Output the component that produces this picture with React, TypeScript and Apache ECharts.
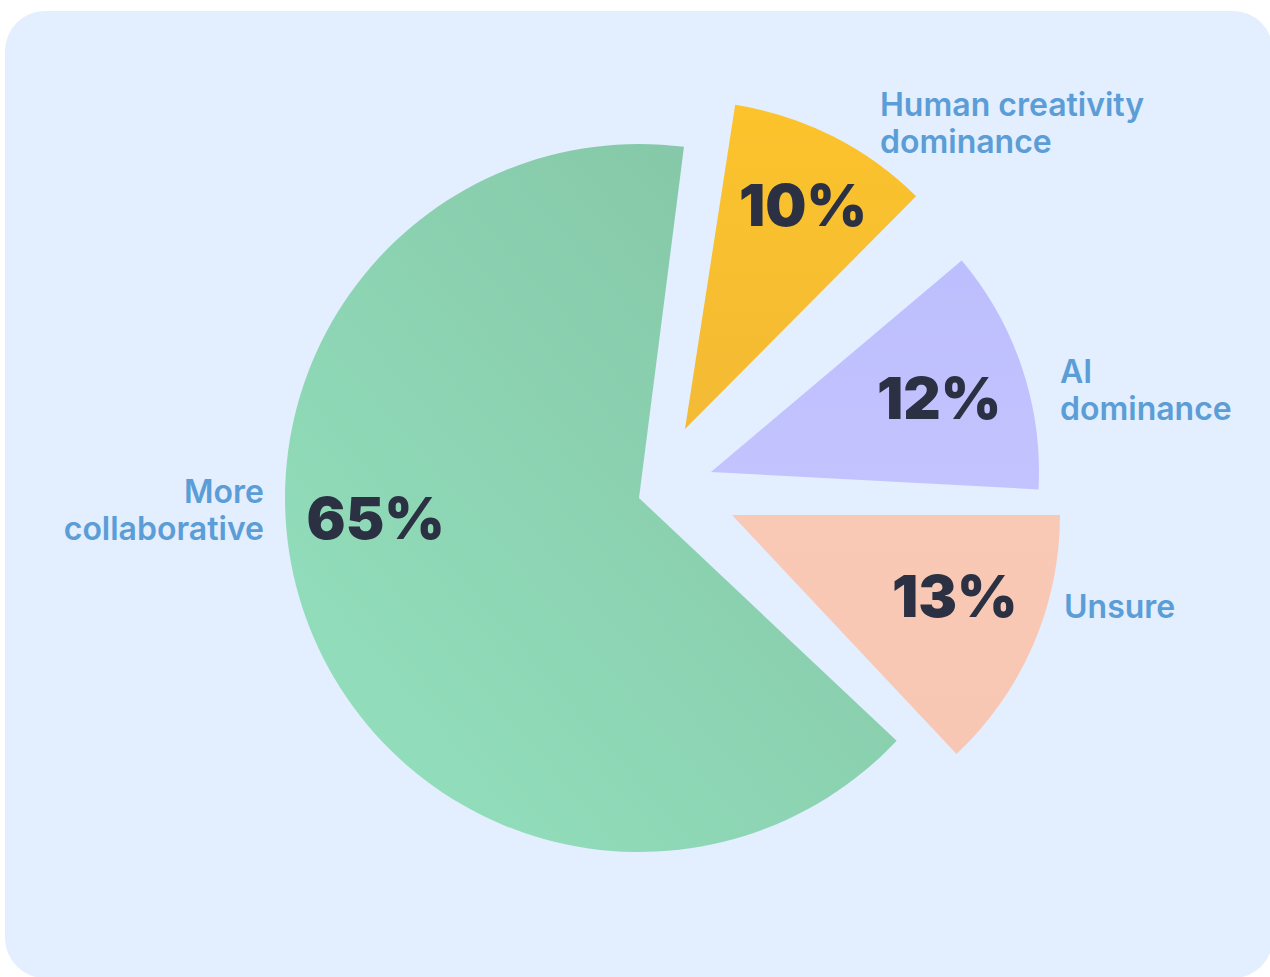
import React, { useEffect, useRef } from "react";
import * as echarts from "echarts";

// ---- data ----
const categories = ["Human creativity\ndominance", "AI\ndominance", "Unsure", "More\ncollaborative"];
const values = [10, 12, 13, 65];
const unit = "%";

// ---- layout (pixels; angles in degrees clockwise from 12 o'clock) ----
const sliceCenters = [[685, 429], [711, 472], [732, 515], [639, 498]];
const sliceRadii = [328, 328, 328, 354];
const sliceStartDeg = [8.8, 49.85, 90, 133.3];
const pctLabelPolar = [[27.8, 253], [72, 240], [110, 237], [265.7, 264]];
const nameLabelPos: [number, number, string][] = [
  [880, 122.5, "left"],
  [1060, 389.5, "left"],
  [1064, 606, "left"],
  [264, 509.5, "right"],
];

const sliceColors = [
  ["#FCC32C", "#F3BA35", "v"],
  ["#BDBEFD", "#C3C3FF", "v"],
  ["#F8C9B5", "#F8C7B3", "v"],
  ["#94E2BF", "#83C3A4", "d"],
];

function makeColor(i: number) {
  const [a, b, dir] = sliceColors[i];
  if (dir === "d") {
    return new echarts.graphic.LinearGradient(0, 1, 1, 0, [
      { offset: 0, color: a },
      { offset: 1, color: b },
    ]);
  }
  return new echarts.graphic.LinearGradient(0, 0, 0, 1, [
    { offset: 0, color: a },
    { offset: 1, color: b },
  ]);
}

export default function App() {
  const ref = useRef<HTMLDivElement>(null);

  useEffect(() => {
    if (!ref.current) return;
    const chart = echarts.init(ref.current, undefined, { renderer: "svg" });
    const total = values.reduce((s, v) => s + v, 0);

    const series = values.map((_, k) => {
      const cum = values.slice(0, k).reduce((s, v) => s + v, 0);
      const startAngle = 90 - sliceStartDeg[k] + (360 * cum) / total;
      return {
        type: "pie",
        center: sliceCenters[k],
        radius: [0, sliceRadii[k]],
        startAngle,
        clockwise: true,
        silent: true,
        avoidLabelOverlap: false,
        labelLine: { show: false },
        data: values.map((v, i) => ({
          name: categories[i],
          value: v,
          itemStyle: { color: i === k ? makeColor(i) : "transparent" },
          label:
            i === k
              ? {
                  show: true,
                  position: "inside",
                  formatter: (p: any) => `${p.value}${unit}`,
                  color: "#2B3143",
                  fontFamily: "Inter",
                  fontWeight: 900,
                  fontSize: 58,
                }
              : { show: false },
        })),
        labelLayout: (p: any) => {
          if (p.dataIndex !== k) return {};
          const [cx, cy] = sliceCenters[k];
          const [a, d] = pctLabelPolar[k];
          const rad = (a * Math.PI) / 180;
          return { x: cx + d * Math.sin(rad), y: cy - d * Math.cos(rad), align: "center", verticalAlign: "middle" };
        },
      };
    });

    const graphic: any[] = [
      {
        type: "rect",
        z: -10,
        shape: { x: 5, y: 11, width: 1268, height: 967, r: 40 },
        style: { fill: "#E3EEFE" },
        silent: true,
      },
      ...categories.map((name, i) => ({
        type: "text",
        x: nameLabelPos[i][0],
        y: nameLabelPos[i][1],
        silent: true,
        style: {
          text: name,
          fill: "#5B9DD6",
          fontFamily: "Inter",
          fontWeight: 600,
          fontSize: 32,
          lineHeight: 37,
          align: nameLabelPos[i][2],
          verticalAlign: "middle",
        },
      })),
    ];

    chart.setOption({
      animation: false,
      backgroundColor: "#FFFFFF",
      graphic,
      series,
    });

    return () => chart.dispose();
  }, []);

  return (
    <div
      ref={ref}
      style={{ position: "absolute", left: 0, top: 0, width: 1270, height: 977 }}
    />
  );
}
